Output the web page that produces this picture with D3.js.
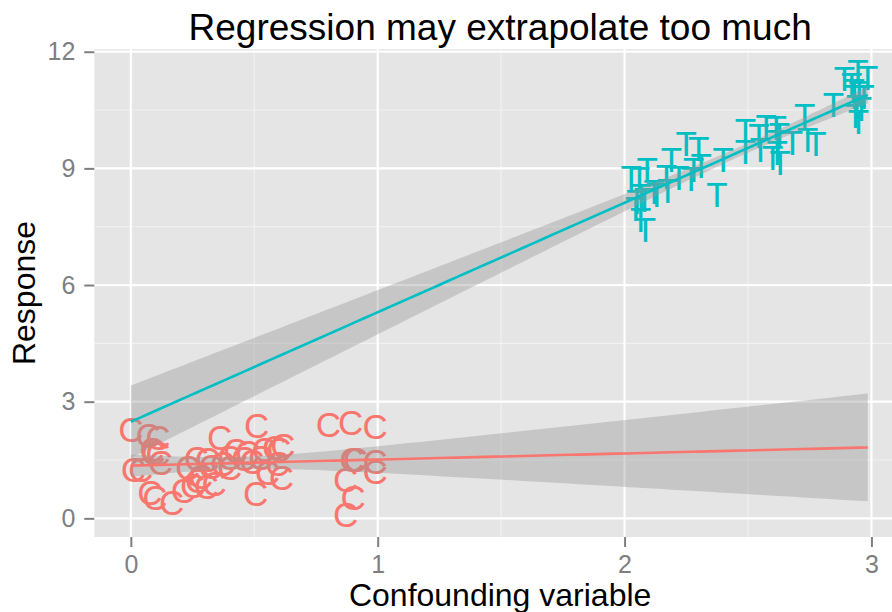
<!DOCTYPE html>
<html>
<head>
<meta charset="utf-8">
<script src="https://cdn.jsdelivr.net/npm/d3@7"></script>
<style>
  html, body { margin: 0; padding: 0; background: #ffffff; overflow: hidden; }
  svg { display: block; font-family: "Liberation Sans", Arial, sans-serif; }
</style>
</head>
<body>
<svg id="chart" width="892" height="612"></svg>
<script>
// ---- data ----
const titleText = "Regression may extrapolate too much";
const xLabel = "Confounding variable";
const yLabel = "Response";
const xTicks = [0, 1, 2, 3];
const yTicks = [0, 3, 6, 9, 12];
const xMinor = [0.5, 1.5, 2.5];
const yMinor = [1.5, 4.5, 7.5, 10.5];

const groupNames = ["C", "T"];
const groupColors = ["#F8766D", "#00BFC4"];

const cX = [0.00, 0.07, 0.11, 0.085, 0.11, 0.09, 0.12, 0.01, 0.04, 0.077,
            0.097, 0.165, 0.213, 0.25, 0.266, 0.283, 0.31, 0.306, 0.36, 0.51,
            0.506, 0.425, 0.472, 0.526, 0.583, 0.616, 0.594, 0.61, 0.553, 0.372,
            0.324, 0.337, 0.457, 0.80, 0.89, 0.99, 0.895, 0.91, 0.99, 0.99,
            0.87, 0.90, 0.87, 0.27, 0.40, 0.23, 0.54, 0.60, 0.49, 0.40];
const cY = [2.30, 2.13, 2.08, 1.78, 1.66, 1.70, 1.44, 1.25, 1.26, 0.67,
            0.55, 0.42, 0.71, 0.84, 1.53, 1.07, 1.51, 0.82, 2.07, 2.40,
            0.64, 1.74, 1.70, 1.57, 1.82, 1.87, 1.42, 1.06, 1.19, 1.42,
            1.33, 0.89, 1.53, 2.42, 2.47, 2.37, 1.52, 1.51, 1.46, 1.20,
            1.01, 0.55, 0.11, 0.97, 1.32, 1.32, 1.77, 1.77, 1.47, 1.57];

const tX = [2.027, 2.06, 2.092, 2.067, 2.045, 2.065, 2.085, 2.13, 2.175, 2.19,
            2.22, 2.17, 2.25, 2.30, 2.28, 2.31, 2.27, 2.40, 2.374, 2.49,
            2.49, 2.574, 2.544, 2.614, 2.627, 2.60, 2.618, 2.63, 2.68, 2.73,
            2.742, 2.775, 2.846, 2.891, 2.945, 2.985, 2.92, 2.93, 2.94, 2.96,
            2.935, 2.947, 2.05, 2.08, 2.95, 2.93, 2.97, 2.62, 2.55, 2.12];
const tY = [8.77, 8.75, 8.97, 8.30, 7.96, 7.70, 7.44, 8.34, 8.43, 9.24,
            8.77, 8.80, 9.64, 9.51, 8.98, 9.07, 8.73, 9.22, 8.33, 9.97,
            9.44, 10.09, 9.84, 10.05, 9.88, 9.28, 9.41, 9.15, 9.67, 10.35,
            9.75, 9.64, 10.65, 11.31, 11.50, 11.33, 11.16, 10.86, 10.60, 10.55,
            10.35, 10.22, 8.15, 8.20, 10.95, 11.00, 10.85, 9.70, 9.50, 8.40];

// ---- layout ----
const svg = d3.select("#chart");
const panel = { left: 94.3, right: 906, top: 49, bottom: 537 };

const x = d3.scaleLinear().domain([-0.148, 3.14]).range([panel.left, panel.right]);
const y = d3.scaleLinear().domain([-0.48, 12.07]).range([panel.bottom, panel.top]);

// panel background
svg.append("rect")
  .attr("x", panel.left).attr("y", panel.top)
  .attr("width", panel.right - panel.left).attr("height", panel.bottom - panel.top)
  .attr("fill", "#E5E5E5");

// grid
const grid = svg.append("g");
grid.selectAll(".vminor").data(xMinor).enter().append("line")
  .attr("x1", d => x(d)).attr("x2", d => x(d))
  .attr("y1", panel.top).attr("y2", panel.bottom)
  .attr("stroke", "#F2F2F2").attr("stroke-width", 1.1);
grid.selectAll(".hminor").data(yMinor).enter().append("line")
  .attr("y1", d => y(d)).attr("y2", d => y(d))
  .attr("x1", panel.left).attr("x2", panel.right)
  .attr("stroke", "#F2F2F2").attr("stroke-width", 1.1);
grid.selectAll(".vmajor").data(xTicks).enter().append("line")
  .attr("x1", d => x(d)).attr("x2", d => x(d))
  .attr("y1", panel.top).attr("y2", panel.bottom)
  .attr("stroke", "#FFFFFF").attr("stroke-width", 2.2);
grid.selectAll(".hmajor").data(yTicks).enter().append("line")
  .attr("y1", d => y(d)).attr("y2", d => y(d))
  .attr("x1", panel.left).attr("x2", panel.right)
  .attr("stroke", "#FFFFFF").attr("stroke-width", 2.2);

// axes
const xAxis = d3.axisBottom(x).tickValues(xTicks).tickSize(10).tickPadding(8).tickFormat(d3.format("d"));
const yAxis = d3.axisLeft(y).tickValues(yTicks).tickSize(10).tickPadding(9).tickFormat(d3.format("d"));

const gx = svg.append("g").attr("transform", `translate(0,${panel.bottom})`).call(xAxis);
const gy = svg.append("g").attr("transform", `translate(${panel.left},0)`).call(yAxis);
[gx, gy].forEach(g => {
  g.select(".domain").remove();
  g.selectAll(".tick line").attr("stroke", "#7F7F7F").attr("stroke-width", 2);
  g.selectAll(".tick text").attr("fill", "#7F7F7F").attr("font-size", 25)
    .attr("font-family", "Liberation Sans, Arial, sans-serif");
});

// points as text labels
const groups = [
  { name: groupNames[0], color: groupColors[0], xs: cX, ys: cY },
  { name: groupNames[1], color: groupColors[1], xs: tX, ys: tY }
];

svg.append("clipPath").attr("id", "pclip").append("rect")
  .attr("x", panel.left).attr("y", panel.top)
  .attr("width", panel.right - panel.left).attr("height", panel.bottom - panel.top);

const plot = svg.append("g").attr("clip-path", "url(#pclip)");

groups.forEach(gr => {
  plot.append("g").selectAll("text").data(gr.xs.map((v, i) => [v, gr.ys[i]])).enter()
    .append("text")
    .attr("x", d => x(d[0])).attr("y", d => y(d[1]))
    .attr("dy", "0.36em")
    .attr("text-anchor", "middle")
    .attr("font-size", 35)
    .attr("fill", gr.color)
    .text(gr.name);
});

// linear regression with 95% CI (fullrange)
const allX = cX.concat(tX);
const xr = d3.extent(allX);
function tQuant975(df) {
  const z = 1.959964;
  const g1 = (Math.pow(z, 3) + z) / 4;
  const g2 = (5 * Math.pow(z, 5) + 16 * Math.pow(z, 3) + 3 * z) / 96;
  return z + g1 / df + g2 / (df * df);
}
groups.forEach(gr => {
  const n = gr.xs.length;
  const mx = d3.mean(gr.xs), my = d3.mean(gr.ys);
  let sxx = 0, sxy = 0;
  gr.xs.forEach((v, i) => { sxx += (v - mx) * (v - mx); sxy += (v - mx) * (gr.ys[i] - my); });
  const b = sxy / sxx, a = my - b * mx;
  let sse = 0;
  gr.xs.forEach((v, i) => { const r = gr.ys[i] - (a + b * v); sse += r * r; });
  const s = Math.sqrt(sse / (n - 2));
  const tq = tQuant975(n - 2);
  const grid80 = d3.range(80).map(i => xr[0] + (xr[1] - xr[0]) * i / 79);
  const fit = grid80.map(v => {
    const se = s * Math.sqrt(1 / n + (v - mx) * (v - mx) / sxx);
    const f = a + b * v;
    return { x: v, y: f, lo: f - tq * se, hi: f + tq * se };
  });
  plot.append("path").datum(fit)
    .attr("d", d3.area().x(d => x(d.x)).y0(d => y(d.lo)).y1(d => y(d.hi)))
    .attr("fill", "#999999").attr("fill-opacity", 0.4);
  plot.append("path").datum(fit)
    .attr("d", d3.line().x(d => x(d.x)).y(d => y(d.y)))
    .attr("fill", "none").attr("stroke", gr.color).attr("stroke-width", 2.6);
});

// titles
svg.append("text")
  .attr("x", (panel.left + panel.right) / 2).attr("y", 40)
  .attr("text-anchor", "middle").attr("font-size", 37).attr("fill", "#000")
  .text(titleText);
svg.append("text")
  .attr("x", (panel.left + panel.right) / 2).attr("y", 606)
  .attr("text-anchor", "middle").attr("font-size", 32).attr("fill", "#000")
  .text(xLabel);
svg.append("text")
  .attr("transform", `translate(35,${(panel.top + panel.bottom) / 2}) rotate(-90)`)
  .attr("text-anchor", "middle").attr("font-size", 32).attr("fill", "#000")
  .text(yLabel);
</script>
</body>
</html>
